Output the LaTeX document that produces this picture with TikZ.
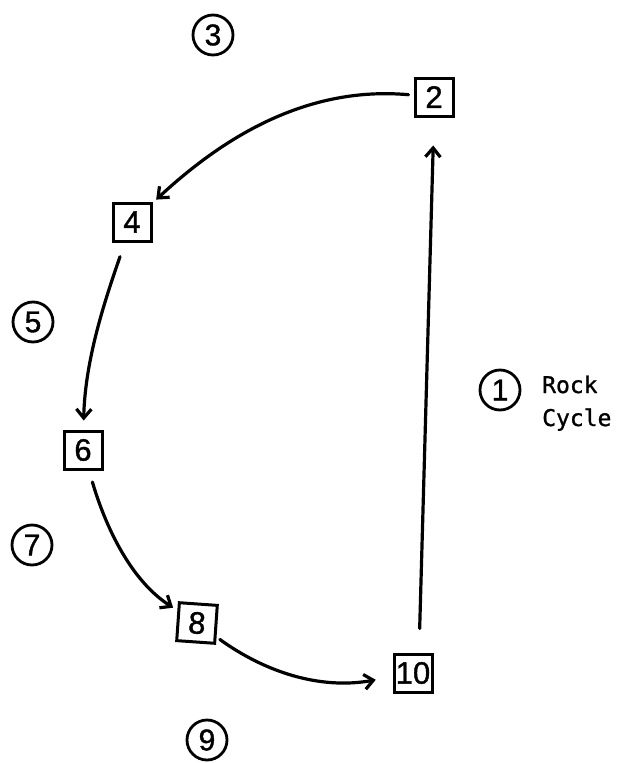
\documentclass[tikz,border=0pt]{standalone}
\usepackage{fontspec}
\setmainfont[FakeBold=1.2]{Liberation Sans}
\newfontfamily\monofont[FakeBold=1.0]{DejaVu Sans Mono}
\usetikzlibrary{arrows.meta}
\begin{document}
\begin{tikzpicture}[x=1pt,y=-1pt,
  stagebox/.style={draw, line width=3pt, minimum width=38pt, minimum height=38pt,
    inner sep=0pt, font=\fontsize{31}{31}\selectfont},
  stagenum/.style={draw, circle, line width=2.8pt, minimum size=40pt,
    inner sep=0pt, font=\fontsize{30}{30}\selectfont},
  caption/.style={anchor=base west, inner sep=0pt, font=\monofont\fontsize{23}{23}\selectfont},
  flow/.style={line width=3.2pt, line cap=round,
    -{Straight Barb[length=9pt,width=15pt,line width=3.2pt]}}]
\useasboundingbox (0,0) rectangle (631,763);

% stages of the cycle
\node[stagebox] (n2) at (434,97) {2};
\node[stagebox] (n4) at (132,222) {4};
\node[stagebox] (n6) at (83,450) {6};
\node[stagebox, rotate=-4] (n8) at (197,623) {8};
\node[stagebox] (n10) at (413,673) {10};

% circled numbers
\node[stagenum] (c1) at (500,390) {1};
\node[stagenum] (c3) at (213,35) {3};
\node[stagenum] (c5) at (33,322) {5};
\node[stagenum] (c7) at (32,545) {7};
\node[stagenum] (c9) at (207,740) {9};

\node[caption] (rock) at (542,393) {Rock};
\node[caption] (cycle) at (542,426) {Cycle};

% arrows between stages
\draw[flow, shorten <=24pt, shorten >=28pt] ([xshift=6pt]n10.north) -- (n2.south);
\draw[flow, shorten <=5pt, shorten >=5pt]
  (n2) .. controls (300,85) and (215,145) .. (n4);
\draw[flow, shorten <=15pt, shorten >=9pt]
  (n4) .. controls (105,300) and (85,360) .. (n6);
\draw[flow, shorten <=12pt, shorten >=5pt]
  (n6) .. controls (105,525) and (130,580) .. (n8);
\draw[flow, shorten <=4pt, shorten >=17pt]
  (n8) .. controls (265,672) and (320,690) .. (n10);
\end{tikzpicture}
\end{document}
